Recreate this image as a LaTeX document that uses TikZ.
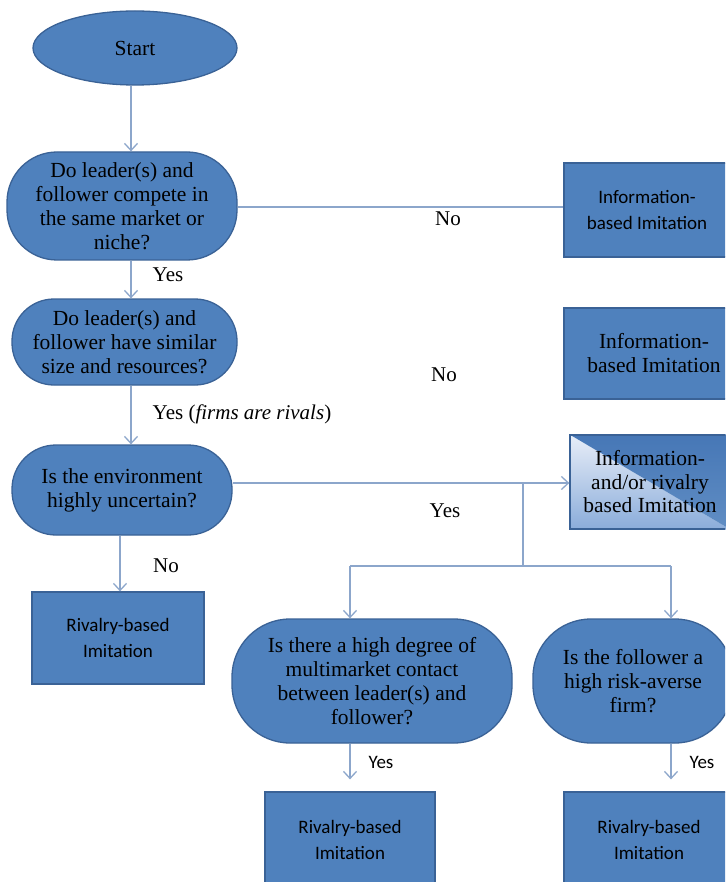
\documentclass[tikz,border=0pt]{standalone}
\usepackage{fontspec}
\setmainfont{Liberation Serif}
\newfontfamily\calibri{Carlito}
\usetikzlibrary{arrows.meta,calc,backgrounds,shapes.geometric}
\definecolor{boxblue}{HTML}{4F81BD}
\definecolor{edgeblue}{HTML}{3A6296}
\definecolor{linkblue}{HTML}{8CA6CB}
\definecolor{paleblue}{HTML}{E8EEF8}
\definecolor{midblue}{HTML}{8AACDA}
\definecolor{deepblue}{HTML}{4677B6}
\begin{document}
\begin{tikzpicture}[x=1pt,y=-1pt,
  every node/.style={inner sep=0pt},
  shapebase/.style={draw=edgeblue, fill=boxblue, line width=1.3pt, align=center},
  question/.style={shapebase, rectangle, rounded corners=#1,
    font=\fontsize{21.5}{24}\selectfont},
  outcome/.style={shapebase, rectangle, font=\calibri\fontsize{19}{26}\selectfont},
  serifoutcome/.style={shapebase, rectangle, font=\fontsize{21.5}{24}\selectfont},
  link/.style={draw=linkblue, line width=1.3pt},
  arrowlink/.style={link, -{Straight Barb[length=7pt,width=13pt,line width=1.3pt]}},
  lbl/.style={font=\fontsize{21}{24}\selectfont},
  slbl/.style={font=\calibri\fontsize{19}{20}\selectfont}
]
\clip (0,0) rectangle (725,882);
\begin{scope}[on background layer]
  \fill[white] (0,0) rectangle (725,882);
\end{scope}

% start terminal
\node[shapebase, ellipse, minimum width=204, minimum height=74,
      font=\fontsize{21.5}{24}\selectfont] (start) at (135,48) {Start};

% decisions on the left column
\node[question=50, minimum width=230, minimum height=108] (d1) at (122,206)
  {Do leader(s) and\\follower compete in\\the same market or\\niche?};
\node[question=42, minimum width=225, minimum height=86] (d2) at (124.5,342)
  {Do leader(s) and\\follower have similar\\size and resources?};
\node[question=44, minimum width=220, minimum height=90] (d3) at (122,490)
  {Is the environment\\highly uncertain?};

% outcomes on the right
\node[outcome, minimum width=166, minimum height=94] (b1) at (647,210)
  {Information-\\based Imitation};
\node[serifoutcome, minimum width=180, minimum height=91] (b2) at (654,353.5)
  {Information-\\based Imitation};
\node[shapebase, fill=none, rectangle, minimum width=160, minimum height=94,
      font=\fontsize{21.5}{23.5}\selectfont] (b3) at (650,482)
  {Information-\\and/or rivalry\\based Imitation};
\begin{scope}[on background layer]
  \shade[top color=paleblue, bottom color=midblue]
    (b3.north west) -- (b3.south east) -- (b3.south west) -- cycle;
  \shade[top color=deepblue, bottom color=boxblue!90!white]
    (b3.north west) -- (b3.north east) -- (b3.south east) -- cycle;
\end{scope}

\node[outcome, minimum width=172, minimum height=92] (b4) at (118,638)
  {Rivalry-based\\Imitation};

% second-level decisions
\node[question=58, minimum width=280, minimum height=124] (d4) at (372,681)
  {Is there a high degree of\\multimarket contact\\between leader(s) and\\follower?};
\node[question=58, minimum width=200, minimum height=124] (d5) at (633,681)
  {Is the follower a\\high risk-averse\\firm?};

\node[outcome, minimum width=170, minimum height=96] (b5) at (350,840)
  {Rivalry-based\\Imitation};
\node[outcome, minimum width=170, minimum height=96] (b6) at (649,840)
  {Rivalry-based\\Imitation};

% connector columns and junctions
\coordinate (c1) at (131,0);
\coordinate (c3) at (120,0);
\coordinate (split) at (523,483);
\coordinate (lj) at (350,566);
\coordinate (rj) at (671,566);

\draw[arrowlink] (start.south -| c1) -- (d1.north -| c1);
\draw[link] (d1.east |- 0,207) -- (b1.west |- 0,207);
\draw[arrowlink] (d1.south -| c1) -- (d2.north -| c1);
\draw[arrowlink] (d2.south -| c1) -- (d3.north -| c1);
\draw[arrowlink] (d3.east |- split) -- (b3.west |- split);
\draw[link] (split) -- (split |- lj);
\draw[link] (lj) -- (rj);
\draw[arrowlink] (lj) -- (d4.north -| lj);
\draw[arrowlink] (rj) -- (d5.north -| rj);
\draw[arrowlink] (d3.south -| c3) -- (b4.north -| c3);
\draw[arrowlink, shorten >=12pt] (d4.south -| lj) -- (b5.north -| lj);
\draw[arrowlink, shorten >=12pt] (d5.south -| rj) -- (b6.north -| rj);

% branch labels
\node[lbl] (no1) at (448,219) {No};
\node[lbl] (yes1) at (168,275) {Yes};
\node[lbl] (no2) at (444,375) {No};
\node[lbl] (yes2) at (242,414) {Yes (\textit{firms are rivals})};
\node[lbl] (yes3) at (445,511) {Yes};
\node[lbl] (no3) at (166,566) {No};
\node[slbl] (yes4) at (381,762) {Yes};
\node[slbl] (yes5) at (702,762) {Yes};
\end{tikzpicture}
\end{document}
